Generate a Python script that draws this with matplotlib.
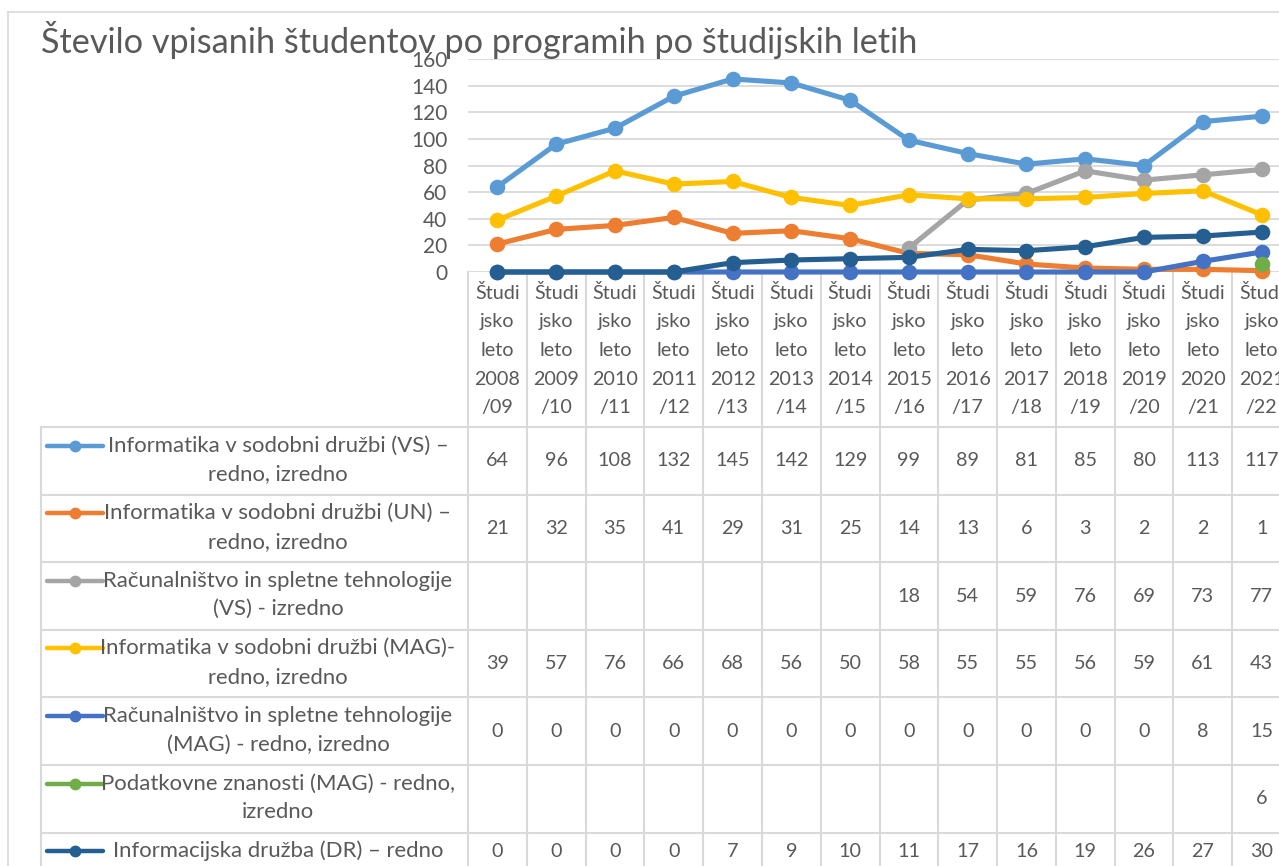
import matplotlib
matplotlib.use("Agg")
import matplotlib.pyplot as plt
from matplotlib.lines import Line2D
import numpy as np

plt.rcParams['font.family'] = ['Lato', 'DejaVu Sans']

# ---------------- data ----------------
years = ["2008/09", "2009/10", "2010/11", "2011/12", "2012/13", "2013/14", "2014/15",
         "2015/16", "2016/17", "2017/18", "2018/19", "2019/20", "2020/21", "2021/22"]
categories = ["Študijsko leto " + y for y in years]

series_names = [
    "Informatika v sodobni družbi (VS) –\nredno, izredno",
    "Informatika v sodobni družbi (UN) –\nredno, izredno",
    "Računalništvo in spletne tehnologije\n(VS) - izredno",
    "Informatika v sodobni družbi (MAG)-\nredno, izredno",
    "Računalništvo in spletne tehnologije\n(MAG) - redno, izredno",
    "Podatkovne znanosti (MAG) - redno,\nizredno",
    "Informacijska družba (DR) – redno",
]
N = None
isd_vs = [64, 96, 108, 132, 145, 142, 129, 99, 89, 81, 85, 80, 113, 117]
isd_un = [21, 32, 35, 41, 29, 31, 25, 14, 13, 6, 3, 2, 2, 1]
rst_vs = [N, N, N, N, N, N, N, 18, 54, 59, 76, 69, 73, 77]
isd_mag = [39, 57, 76, 66, 68, 56, 50, 58, 55, 55, 56, 59, 61, 43]
rst_mag = [0, 0, 0, 0, 0, 0, 0, 0, 0, 0, 0, 0, 8, 15]
pz_mag = [N, N, N, N, N, N, N, N, N, N, N, N, N, 6]
id_dr = [0, 0, 0, 0, 7, 9, 10, 11, 17, 16, 19, 26, 27, 30]
series_values = [isd_vs, isd_un, rst_vs, isd_mag, rst_mag, pz_mag, id_dr]
colors = ["#5B9BD5", "#ED7D31", "#A5A5A5", "#FFC000", "#4472C4", "#70AD47", "#255E91"]
yticks = [0, 20, 40, 60, 80, 100, 120, 140, 160]

# ---------------- layout (pixels) ----------------
W, H = 1279, 866
TXT = "#595959"
GRID = "#D9D9D9"
plot_l, plot_r = 468, 1291
plot_top, plot_bot = 59, 272
ncat = len(categories)
colw = (plot_r - plot_l) / ncat

fig = plt.figure(figsize=(W / 100, H / 100), dpi=100)
fig.patch.set_facecolor("white")

# overlay for table / frame (pixel coords)
ov = fig.add_axes([0, 0, 1, 1], zorder=0)
ov.set_xlim(0, W)
ov.set_ylim(H, 0)
ov.axis("off")

ax = fig.add_axes([plot_l / W, 1 - plot_bot / H, (plot_r - plot_l) / W, (plot_bot - plot_top) / H], zorder=2)
ax.patch.set_alpha(0)
x = np.arange(ncat)
for vals, c in zip(series_values, colors):
    v = np.array([np.nan if a is None else a for a in vals], dtype=float)
    ax.plot(x, v, color=c, lw=3.7, marker="o", ms=10.2, solid_capstyle="round",
            solid_joinstyle="round", clip_on=False)
ax.set_xlim(-0.5, ncat - 0.5)
ax.set_ylim(0, 160)
ax.set_yticks(yticks)
ax.set_xticks([])
ax.yaxis.grid(True, color=GRID, lw=1.3)
ax.set_axisbelow(True)
for s in ax.spines.values():
    s.set_visible(False)
ax.tick_params(axis="y", length=0, pad=15, labelsize=15, labelcolor=TXT)

# chart frame
ov.add_line(Line2D([8, 8], [12, H + 5], color=GRID, lw=1.2))
ov.add_line(Line2D([8, W + 5], [12, 12], color=GRID, lw=1.2))

# title
ov.text(41, 53, "Število vpisanih študentov po programih po študijskih letih",
        fontsize=24.7, color=TXT, ha="left", va="baseline")

# header row of data table
tfs = 14.2
nfs = 15.9
line_gap = 28.7
for i, cat in enumerate(categories):
    cx = plot_l + (i + 0.5) * colw
    y = cat.split(" ")[-1]
    parts = [cat[:5], cat[5:9], cat.split(" ")[1], y[:4], y[4:]]
    for k, p in enumerate(parts):
        ov.text(cx, 293 + k * line_gap, p, fontsize=tfs, color=TXT, ha="center", va="center")

# table grid
row_top = 427
row_h = 67.6
nrows = len(series_names)
for k in range(ncat + 1):
    xx = plot_l + k * colw
    ov.add_line(Line2D([xx, xx], [plot_bot, H + 5], color=GRID, lw=1.5))
for r in range(nrows + 1):
    yy = row_top + r * row_h
    ov.add_line(Line2D([41, W + 5], [yy, yy], color=GRID, lw=1.5))
ov.add_line(Line2D([41, 41], [row_top, H + 5], color=GRID, lw=1.5))

# rows: legend keys, names, values
for r, (name, vals, c) in enumerate(zip(series_names, series_values, colors)):
    top = row_top + r * row_h
    lines = name.split("\n")
    first_y = top + 18.5
    ov.add_line(Line2D([47, 103], [first_y, first_y], color=c, lw=3.2, solid_capstyle="round"))
    ov.plot([75], [first_y], "o", color=c, ms=7.5)
    for k, ln in enumerate(lines):
        ov.text(278, first_y + k * 28.5, ln, fontsize=nfs, color=TXT, ha="center", va="center")
    vy = top + row_h / 2 if len(lines) > 1 else first_y
    for i, v in enumerate(vals):
        if v is None:
            continue
        ov.text(plot_l + (i + 0.5) * colw, vy, str(v), fontsize=tfs, color=TXT,
                ha="center", va="center")

fig.savefig("out.png", dpi=100)
